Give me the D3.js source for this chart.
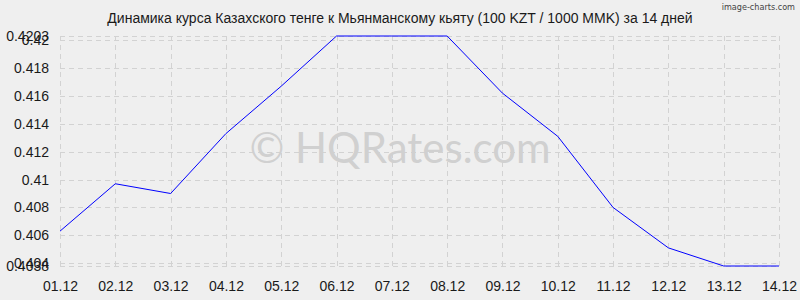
<!DOCTYPE html>
<html>
<head>
<meta charset="utf-8">
<script src="https://cdn.jsdelivr.net/npm/d3@7"></script>
<style>
  body { margin: 0; background: #efefef; }
  svg { display: block; }
</style>
</head>
<body>
<div id="chart"></div>
<script>
const title = "Динамика курса Казахского тенге к Мьянманскому кьяту (100 KZT / 1000 MMK) за 14 дней";
const dates = ["01.12", "02.12", "03.12", "04.12", "05.12", "06.12", "07.12",
               "08.12", "09.12", "10.12", "11.12", "12.12", "13.12", "14.12"];
const rates = [0.4063, 0.4097, 0.4090, 0.4133, 0.4167, 0.4203, 0.4203,
               0.4203, 0.4162, 0.4131, 0.4080, 0.4051, 0.4038, 0.4038];
const yTicks = [0.404, 0.406, 0.408, 0.41, 0.412, 0.414, 0.416, 0.418, 0.42];
const yMin = 0.4038, yMax = 0.4203;

const width = 800, height = 300;
const margin = {top: 36, right: 21, bottom: 34, left: 60};

const svg = d3.select("#chart").append("svg")
    .attr("width", width)
    .attr("height", height);

svg.append("rect")
    .attr("width", width)
    .attr("height", height)
    .attr("fill", "#efefef");

const x = d3.scalePoint()
    .domain(dates)
    .range([margin.left, width - margin.right]);

const y = d3.scaleLinear()
    .domain([yMin, yMax])
    .range([height - margin.bottom, margin.top]);

const font = "'Liberation Sans', Arial, sans-serif";

// grid
const grid = svg.append("g")
    .attr("stroke", "#d2d2d2")
    .attr("stroke-width", 1)
    .attr("stroke-dasharray", "5,4");

grid.selectAll(".gy")
    .data(yTicks.concat([yMin, yMax]))
    .enter().append("line")
    .attr("x1", margin.left)
    .attr("x2", width - margin.right)
    .attr("y1", d => Math.round(y(d)) + 0.5)
    .attr("y2", d => Math.round(y(d)) + 0.5);

grid.selectAll(".gx")
    .data(dates)
    .enter().append("line")
    .attr("x1", d => Math.round(x(d)) + 0.5)
    .attr("x2", d => Math.round(x(d)) + 0.5)
    .attr("y1", margin.top)
    .attr("y2", height - margin.bottom);

// watermark
svg.append("text")
    .attr("x", 400)
    .attr("y", 163)
    .attr("text-anchor", "middle")
    .attr("font-family", "Lato, 'Open Sans', sans-serif")
    .attr("font-size", 42)
    .attr("fill", "#d0d0d0")
    .text("© HQRates.com");

// y axis labels
const yAxis = d3.axisLeft(y)
    .tickValues(yTicks.concat([yMin, yMax]))
    .tickFormat(d => String(+d.toFixed(4)))
    .tickSize(0)
    .tickPadding(11);

svg.append("g")
    .attr("transform", `translate(${margin.left},0)`)
    .call(yAxis)
    .call(g => g.select(".domain").remove())
    .selectAll("text")
    .attr("font-family", font)
    .attr("font-size", 14)
    .attr("fill", "#1a1a1a");

// x axis labels
const xAxis = d3.axisBottom(x)
    .tickSize(0)
    .tickPadding(15);

svg.append("g")
    .attr("transform", `translate(0,${height - margin.bottom})`)
    .call(xAxis)
    .call(g => g.select(".domain").remove())
    .selectAll("text")
    .attr("font-family", font)
    .attr("font-size", 14)
    .attr("fill", "#1a1a1a");

// line
const line = d3.line()
    .x((d, i) => x(dates[i]))
    .y(d => y(d));

svg.append("path")
    .datum(rates)
    .attr("fill", "none")
    .attr("stroke", "#0000ff")
    .attr("stroke-width", 1)
    .attr("d", line);

// title
svg.append("text")
    .attr("x", 400)
    .attr("y", 23)
    .attr("text-anchor", "middle")
    .attr("font-family", font)
    .attr("font-size", 14)
    .attr("fill", "#1a1a1a")
    .text(title);

svg.append("text")
    .attr("x", 795)
    .attr("y", 10)
    .attr("text-anchor", "end")
    .attr("font-family", "'DejaVu Sans Condensed', 'DejaVu Sans', sans-serif")
    .attr("font-size", 9)
    .attr("fill", "#444")
    .text("image-charts.com");
</script>
</body>
</html>
